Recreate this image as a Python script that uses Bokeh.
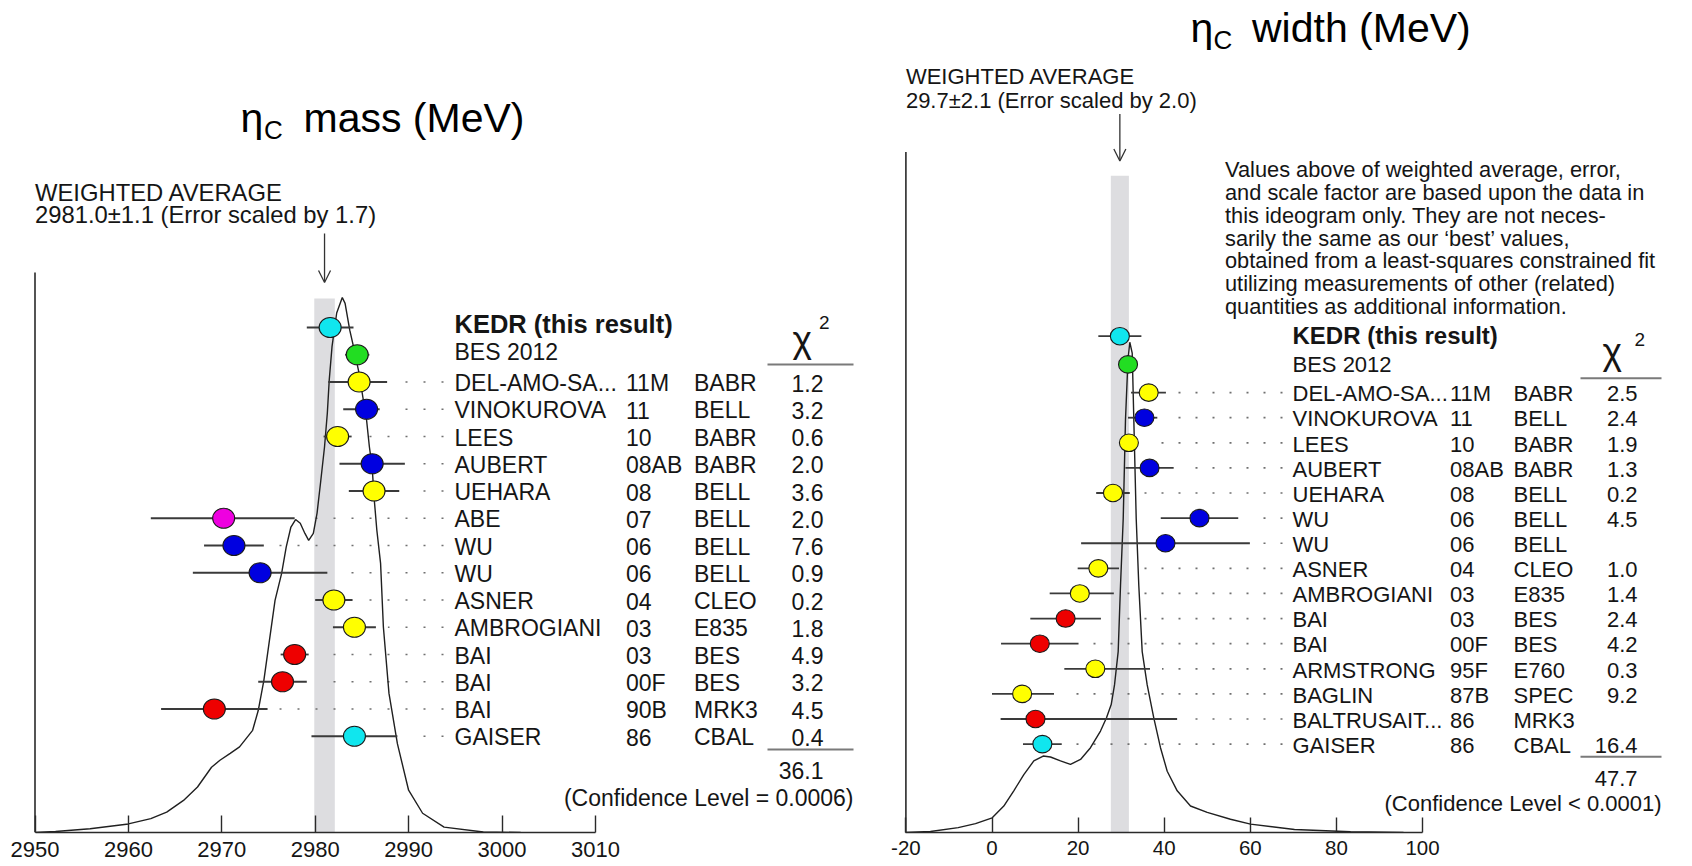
from bokeh.plotting import figure
from bokeh.models import Range1d, LinearAxis, FixedTicker, Arrow, OpenHead
from bokeh.layouts import row
from bokeh.embed import file_html
from bokeh.resources import INLINE
from bokeh.core.properties import value

# ======================= DATA : eta_c mass =======================
mass_names = ["KEDR (this result)", "BES 2012", "DEL-AMO-SA...", "VINOKUROVA", "LEES", "AUBERT",
              "UEHARA", "ABE", "WU", "WU", "ASNER", "AMBROGIANI", "BAI", "BAI", "BAI", "GAISER"]
mass_years = ["", "", "11M", "11", "10", "08AB", "08", "07", "06", "06", "04", "03", "03", "00F", "90B", "86"]
mass_exps = ["", "", "BABR", "BELL", "BABR", "BABR", "BELL", "BELL", "BELL", "BELL", "CLEO", "E835",
             "BES", "BES", "MRK3", "CBAL"]
mass_chi2 = [None, None, 1.2, 3.2, 0.6, 2.0, 3.6, 2.0, 7.6, 0.9, 0.2, 1.8, 4.9, 3.2, 4.5, 0.4]
mass_val = [2981.6, 2984.5, 2984.7, 2985.5, 2982.4, 2986.1, 2986.3, 2970.2, 2971.3, 2974.1,
            2982.0, 2984.2, 2977.8, 2976.5, 2969.2, 2984.2]
mass_err_lo = [2.5, 1.3, 3.3, 2.5, 1.5, 3.5, 2.7, 7.8, 3.2, 7.2, 2.0, 2.3, 1.5, 2.6, 5.7, 4.6]
mass_err_hi = [2.5, 1.3, 3.0, 1.4, 1.5, 3.5, 2.7, 7.6, 3.2, 7.2, 2.0, 2.3, 1.5, 2.6, 5.7, 4.6]
mass_avg, mass_avg_err, mass_scale = 2981.0, 1.1, 1.7
mass_chi2_total = 36.1
mass_cl = "(Confidence Level = 0.0006)"
mass_ticks = [2950, 2960, 2970, 2980, 2990, 3000, 3010]
# ideogram curve (MeV, relative height)
mass_curve_x = [2950.0, 2952.2, 2955.9, 2960.0, 2962.4, 2964.1, 2965.9, 2967.4, 2968.9, 2969.8,
                2970.9, 2971.9, 2973.3, 2973.9, 2974.5, 2975.1, 2975.7, 2976.4, 2976.9, 2977.4,
                2977.9, 2978.4, 2978.9, 2979.3, 2979.8, 2980.2, 2980.6, 2981.0, 2981.3, 2981.5,
                2981.8, 2982.3, 2982.9, 2983.2, 2983.7, 2984.1, 2984.7, 2985.1, 2985.5, 2985.8,
                2986.1, 2986.3, 2986.6, 2987.0, 2987.3, 2987.9, 2988.8, 2990.0, 2991.5, 2993.8,
                2998.0, 3002.0]
mass_curve_h = [0.0, 0.002, 0.007, 0.016, 0.026, 0.038, 0.060, 0.085, 0.122, 0.135,
                0.148, 0.160, 0.191, 0.228, 0.284, 0.359, 0.434, 0.484, 0.534, 0.571,
                0.585, 0.578, 0.559, 0.546, 0.559, 0.597, 0.658, 0.721, 0.784, 0.845,
                0.908, 0.971, 1.0, 0.989, 0.939, 0.908, 0.858, 0.814, 0.771, 0.721,
                0.683, 0.627, 0.565, 0.503, 0.384, 0.260, 0.166, 0.079, 0.036, 0.010,
                0.001, 0.0]

# ======================= DATA : eta_c width =======================
width_names = ["KEDR (this result)", "BES 2012", "DEL-AMO-SA...", "VINOKUROVA", "LEES", "AUBERT",
               "UEHARA", "WU", "WU", "ASNER", "AMBROGIANI", "BAI", "BAI", "ARMSTRONG", "BAGLIN",
               "BALTRUSAIT...", "GAISER"]
width_years = ["", "", "11M", "11", "10", "08AB", "08", "06", "06", "04", "03", "03", "00F", "95F",
               "87B", "86", "86"]
width_exps = ["", "", "BABR", "BELL", "BABR", "BABR", "BELL", "BELL", "BELL", "CLEO", "E835", "BES",
              "BES", "E760", "SPEC", "MRK3", "CBAL"]
width_chi2 = [None, None, 2.5, 2.4, 1.9, 1.3, 0.2, 4.5, None, 1.0, 1.4, 2.4, 4.2, 0.3, 9.2, None, 16.4]
width_val = [29.7, 31.6, 36.4, 35.4, 31.8, 36.6, 28.1, 48.2, 40.3, 24.7, 20.4, 17.1, 11.1, 24.0,
             7.0, 10.1, 11.7]
width_err_lo = [5.0, 1.6, 4.1, 3.8, 2.0, 5.6, 3.9, 9.0, 19.6, 4.8, 7.0, 8.2, 9.0, 7.2, 7.0, 8.1, 4.5]
width_err_hi = [5.0, 1.6, 4.0, 3.0, 2.0, 5.6, 3.9, 9.0, 19.6, 4.8, 7.9, 8.2, 9.0, 12.7, 7.4, 32.9, 4.5]
width_avg, width_avg_err, width_scale = 29.7, 2.1, 2.0
width_chi2_total = 47.7
width_cl = "(Confidence Level < 0.0001)"
width_ticks = [-20, 0, 20, 40, 60, 80, 100]
width_curve_x = [-20.1, -14.3, -7.85, -3.83, 0.05, 2.74, 5.06, 7.39, 9.71, 11.89, 13.59, 15.91,
                 18.23, 20.56, 22.88, 25.2, 26.6, 27.69, 28.46, 29.31, 29.85, 30.48, 31.01, 31.59,
                 32.01, 32.57, 32.94, 33.5, 34.1, 34.89, 36.05, 37.58, 39.14, 40.7, 43.02, 46.11,
                 49.99, 55.4, 60.05, 70.27, 83.28, 95.59]
width_curve_h = [0.0, 0.002, 0.010, 0.018, 0.030, 0.054, 0.085, 0.118, 0.146, 0.156, 0.154, 0.146,
                 0.139, 0.149, 0.173, 0.207, 0.234, 0.261, 0.301, 0.369, 0.504, 0.640, 0.843, 0.965,
                 1.0, 0.978, 0.843, 0.640, 0.504, 0.369, 0.301, 0.234, 0.173, 0.125, 0.085, 0.054,
                 0.041, 0.027, 0.017, 0.006, 0.0016, 0.0]

# ======================= STYLES =======================
CY, GR, YE, BL, MA, RE = "#10E6EE", "#22DD22", "#FFFF00", "#0000E0", "#EE00E0", "#EE0000"
mass_colors = [CY, GR, YE, BL, YE, BL, YE, MA, BL, BL, YE, YE, RE, RE, RE, CY]
width_colors = [CY, GR, YE, BL, YE, BL, YE, BL, BL, YE, YE, RE, RE, YE, YE, RE, CY]

FONT = value("Liberation Sans")
INK = "#151515"
H = 866


def panel(s):
    W, base, off = s["W"], s["base"], s["off"]
    X = lambda px: s["v0"] + (px - s["px0"]) / s["scale"]
    Y = lambda py: base - py
    p = figure(width=W, height=H, x_range=Range1d(X(off), X(off + W)), y_range=Range1d(0, base),
               output_backend="svg", toolbar_location=None, x_axis_type=None, y_axis_type=None,
               min_border_left=0, min_border_right=0, min_border_top=0, min_border_bottom=H - base,
               background_fill_color="white", border_fill_color="white", outline_line_color=None)
    p.extra_y_ranges = {"ideo": Range1d(0, base / s["peak_px"])}

    ticks = s["ticks"]
    ax = LinearAxis(ticker=FixedTicker(ticks=ticks), bounds=(ticks[0], ticks[-1]),
                    major_tick_in=s["tick_len"], major_tick_out=0, minor_tick_in=0, minor_tick_out=0,
                    axis_line_color="#2a2a2a", axis_line_width=1.6, major_tick_line_color="#2a2a2a",
                    major_tick_line_width=1.4, major_label_text_font="Liberation Sans",
                    major_label_text_font_size=s["tick_fs"], major_label_text_color=INK,
                    major_label_standoff=s["standoff"],
                    major_label_overrides={t: str(t) for t in ticks})
    p.add_layout(ax, "below")

    # weighted-average band
    p.quad(left=[s["avg"] - s["avg_err"]], right=[s["avg"] + s["avg_err"]], bottom=[0],
           top=[Y(s["band_top"])], fill_color="#DDDDE0", line_color=None)
    # vertical axis line
    p.segment(x0=[ticks[0]], x1=[ticks[0]], y0=[0], y1=[Y(s["vline_top"])],
              line_color="#2a2a2a", line_width=1.6)

    ys = [Y(py) for py in s["row_px"]]
    val, lo, hi = s["val"], s["lo"], s["hi"]
    # dotted leaders (grid aligned from the name column)
    dx0, dx1, dy = [], [], []
    for i in range(2, len(val)):
        start = val[i] + hi[i] + s["dot_gap"] / s["scale"]
        end = X(s["dot_end"])
        if start < end:
            dx0.append(end); dx1.append(start); dy.append(ys[i])
    p.segment(x0=dx0, x1=dx1, y0=dy, y1=dy, line_color="#707070", line_width=1.7,
              line_dash=s["dot_dash"])

    # ideogram
    p.line(s["cx"], s["ch"], y_range_name="ideo", line_color="#202020", line_width=1.4)

    # error bars and markers
    p.segment(x0=[v - e for v, e in zip(val, lo)], x1=[v + e for v, e in zip(val, hi)], y0=ys, y1=ys,
              line_color="#3a3a3a", line_width=1.8)
    p.ellipse(x=val, y=ys, width=s["mw"], height=s["mh"], width_units="screen",
              height_units="screen", fill_color=s["colors"], line_color="#1a1a1a", line_width=1.1)

    # arrow
    p.add_layout(Arrow(end=OpenHead(size=12, line_color="#333333", line_width=1.3),
                       x_start=s["avg"], y_start=Y(s["arrow"][0]), x_end=s["avg"],
                       y_end=Y(s["arrow"][1]), line_color="#333333", line_width=1.3))

    fs, tb = s["fs"], s["tb"]
    n = len(val)
    by = [y + tb for y in ys]
    by[0] += s["head_dy"][0]
    by[1] += s["head_dy"][1]
    p.text(x=[X(s["c_name"])], y=[by[0]], text=[s["names"][0]], text_font=FONT,
           text_font_style="bold", text_font_size=s["bold_fs"], text_color=INK,
           text_baseline="alphabetic")
    p.text(x=[X(s["c_name"])] * (n - 1), y=by[1:], text=s["names"][1:], text_font=FONT,
           text_font_size=fs, text_color=INK, text_baseline="alphabetic")
    p.text(x=[X(s["c_year"])] * n, y=by, text=s["years"], text_font=FONT, text_font_size=fs,
           text_color=INK, text_baseline="alphabetic")
    p.text(x=[X(s["c_exp"])] * n, y=by, text=s["exps"], text_font=FONT, text_font_size=fs,
           text_color=INK, text_baseline="alphabetic")
    chi_txt = ["" if c is None else "%.1f" % c for c in s["chi2"]]
    p.text(x=[X(s["c_chi"])] * n, y=by, text=chi_txt, text_font=FONT, text_font_size=fs,
           text_color=INK, text_baseline="alphabetic", text_align="right")

    # chi^2 header, lines, totals
    p.text(x=[X(s["chi_x"])], y=[Y(s["chi_base"])], text=["χ"], text_font=FONT,
           text_font_size="37px", text_color=INK, text_baseline="alphabetic")
    p.text(x=[X(s["sup_x"])], y=[Y(s["sup_base"])], text=["2"], text_font=FONT,
           text_font_size="19px", text_color=INK, text_baseline="alphabetic")
    l0, l1 = X(s["line_x"][0]), X(s["line_x"][1])
    p.segment(x0=[l0, l0], x1=[l1, l1], y0=[Y(s["line_y"][0]), Y(s["line_y"][1])],
              y1=[Y(s["line_y"][0]), Y(s["line_y"][1])], line_color="#7a7a7a", line_width=2)
    p.text(x=[X(s["c_chi"])], y=[Y(s["tot_base"])], text=["%.1f" % s["total"]], text_font=FONT,
           text_font_size=fs, text_color=INK, text_baseline="alphabetic", text_align="right")
    p.text(x=[X(s["line_x"][1])], y=[Y(s["cl_base"])], text=[s["cl"]], text_font=FONT,
           text_font_size=fs, text_color=INK, text_baseline="alphabetic", text_align="right")

    # weighted average header
    p.text(x=[ticks[0], ticks[0]], y=[Y(s["wa_base"][0]), Y(s["wa_base"][1])],
           text=["WEIGHTED AVERAGE",
                 "%.1f±%.1f (Error scaled by %.1f)" % (s["avg"], s["avg_err"], s["avg_scale"])],
           text_font=FONT, text_font_size=s["wa_fs"], text_color=INK, text_baseline="alphabetic")

    # title eta_c ...
    t = s["title"]
    p.text(x=[X(t["eta_x"]), X(t["rest_x"])], y=[Y(t["base"]), Y(t["base"])],
           text=["η", t["rest"]], text_font=FONT, text_font_size="41px", text_color="#000000",
           text_baseline="alphabetic")
    p.text(x=[X(t["c_x"])], y=[Y(t["base"] + 12)], text=["C"], text_font=FONT,
           text_font_size="26px", text_color="#000000", text_baseline="alphabetic")

    if "note" in s:
        nb = [Y(s["note_base"] + k * 22.8) for k in range(len(s["note"]))]
        p.text(x=[X(s["note_x"])] * len(nb), y=nb, text=s["note"], text_font=FONT,
               text_font_size="21.8px", text_color=INK, text_baseline="alphabetic")
    return p


mass_rows = [327 + i * 27.25 for i in range(len(mass_val))]
width_rows = [393.5 - 2 * 28.3, 393.5 - 28.3] + [393.5 + k * 25.2 for k in range(len(width_val) - 2)]

left = panel(dict(
    W=870, off=0, base=832, v0=2950, px0=34.5, scale=9.34, peak_px=535, ticks=mass_ticks,
    tick_len=17, tick_fs="22px", standoff=9, avg=mass_avg, avg_err=mass_avg_err, avg_scale=mass_scale,
    band_top=298, vline_top=272, row_px=mass_rows, val=mass_val, lo=mass_err_lo, hi=mass_err_hi,
    dot_gap=12, dot_end=443, dot_dash="2 16", cx=mass_curve_x, ch=mass_curve_h, mw=22, mh=20,
    colors=mass_colors, arrow=(233, 282), fs="23px", bold_fs="25.5px", tb=-1, head_dy=(5, 4),
    names=mass_names, years=mass_years, exps=mass_exps, chi2=mass_chi2,
    c_name=454, c_year=625.5, c_exp=693.5, c_chi=823, chi_x=792, chi_base=339, sup_x=818.5,
    sup_base=322, line_x=(767, 853), line_y=(364, 749), tot_base=769.5, total=mass_chi2_total,
    cl_base=797.5, cl=mass_cl, wa_base=(191.5, 213.5), wa_fs="23.8px",
    title=dict(eta_x=240, c_x=263.5, rest_x=303, base=117, rest="mass (MeV)"),
))

right = panel(dict(
    W=822, off=870, base=835, v0=0, px0=991.5, scale=4.305, peak_px=492, ticks=width_ticks,
    tick_len=15, tick_fs="20.5px", standoff=8, avg=width_avg, avg_err=width_avg_err,
    avg_scale=width_scale, band_top=176, vline_top=152, row_px=width_rows, val=width_val,
    lo=width_err_lo, hi=width_err_hi, dot_gap=12, dot_end=1282, dot_dash="2 15",
    cx=width_curve_x, ch=width_curve_h, mw=19, mh=17.5, colors=width_colors, arrow=(114, 161),
    fs="22px", bold_fs="24px", tb=-1.3, head_dy=(1.5, 1), names=width_names, years=width_years,
    exps=width_exps, chi2=width_chi2, c_name=1292, c_year=1449.5, c_exp=1513, c_chi=1637,
    chi_x=1602, chi_base=352, sup_x=1634, sup_base=340, line_x=(1580, 1661), line_y=(379, 759),
    tot_base=781, total=width_chi2_total, cl_base=806, cl=width_cl, wa_base=(76.5, 100),
    wa_fs="22px",
    title=dict(eta_x=1190, c_x=1213, rest_x=1251.5, base=28, rest="width (MeV)"),
    note=["Values above of weighted average, error,",
          "and scale factor are based upon the data in",
          "this ideogram only.  They are not neces-",
          "sarily the same as our \u2018best\u2019 values,",
          "obtained from a least-squares constrained fit",
          "utilizing measurements of other (related)",
          "quantities as additional information."],
    note_x=1224.5, note_base=170,
))

layout = row(left, right, spacing=0)
open("out.html", "w").write(file_html(layout, INLINE))
